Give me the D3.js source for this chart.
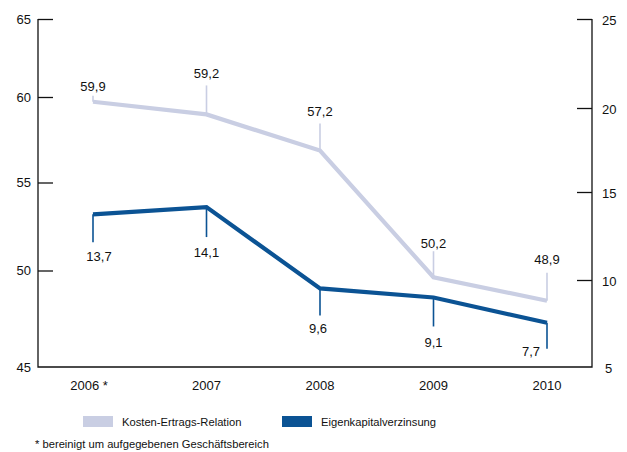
<!DOCTYPE html>
<html>
<head>
<meta charset="utf-8">
<script src="https://cdn.jsdelivr.net/npm/d3@7/dist/d3.min.js"></script>
<style>
  html, body { margin: 0; padding: 0; background: #ffffff; }
  svg { display: block; font-family: "Liberation Sans", Arial, sans-serif; }
</style>
</head>
<body>
<svg id="chart" width="627" height="452"></svg>
<script>
// ---- data ----
const years = ["2006", "2007", "2008", "2009", "2010"];
const yearLabels = ["2006 *", "2007", "2008", "2009", "2010"];
const kostenErtrag = [59.9, 59.2, 57.2, 50.2, 48.9];       // left axis
const eigenkapital = [13.7, 14.1, 9.6, 9.1, 7.7];          // right axis
const kostenLabels = ["59,9", "59,2", "57,2", "50,2", "48,9"];
const eigenLabels = ["13,7", "14,1", "9,6", "9,1", "7,7"];
const leftTicks = [45, 50, 55, 60, 65];
const rightTicks = [5, 10, 15, 20, 25];
const seriesNames = ["Kosten-Ertrags-Relation", "Eigenkapitalverzinsung"];
const footnote = "* bereinigt um aufgegebenen Geschäftsbereich";

// ---- layout ----
const colLight = "#c9cee3";
const colDark = "#0b5394";
const textCol = "#111111";
const axisL = 38, axisR = 592, axisTop = 19, axisBottom = 367;

const svg = d3.select("#chart");

const x = d3.scalePoint().domain(years).range([93, 547]);
const yL = d3.scaleLinear().domain([45, 65]).range([371.3, 9.5]);
const yR = d3.scaleLinear().domain([5, 25]).range([371.6, 10.0]);
// tick placement as drawn on the original axes
const yLTick = d3.scaleLinear().domain(leftTicks).range([367, 270.5, 182.5, 97, 19]);
const yRTick = d3.scaleLinear().domain(rightTicks).range([367, 280, 192, 108, 19]);

// ---- axes ----
const axisG = svg.append("g").attr("stroke", "#111").attr("stroke-width", 1.3).attr("fill", "none");
axisG.append("path").attr("d", `M${axisL},${axisTop}V${axisBottom}H${axisR}V${axisTop}`);

const leftAxis = d3.axisRight(yLTick).tickValues(leftTicks.slice(1)).tickSize(15).tickFormat("");
const lg = svg.append("g").attr("transform", `translate(${axisL},0)`).call(leftAxis);
lg.select(".domain").remove();
lg.selectAll("line").attr("stroke", "#111").attr("stroke-width", 1.3);

const rightAxis = d3.axisLeft(yRTick).tickValues(rightTicks.slice(1)).tickSize(15).tickFormat("");
const rg = svg.append("g").attr("transform", `translate(${axisR},0)`).call(rightAxis);
rg.select(".domain").remove();
rg.selectAll("line").attr("stroke", "#111").attr("stroke-width", 1.3);

const lblFont = 13;
svg.append("g").selectAll("text").data(leftTicks).join("text")
  .attr("x", 31).attr("y", d => yLTick(d)).attr("dy", "0.36em")
  .attr("text-anchor", "end").attr("font-size", lblFont).attr("fill", textCol)
  .text(d => d);
svg.append("g").selectAll("text").data(rightTicks).join("text")
  .attr("x", d => d < 10 ? 605 : 602).attr("y", d => yRTick(d) + 1.5).attr("dy", "0.36em")
  .attr("text-anchor", "start").attr("font-size", lblFont).attr("fill", textCol)
  .text(d => d);

// x labels
svg.append("g").selectAll("text").data(years).join("text")
  .attr("x", (d, i) => x(d) + (i === 0 ? -4 : 0)).attr("y", 390)
  .attr("text-anchor", "middle").attr("font-size", lblFont).attr("fill", textCol)
  .text((d, i) => yearLabels[i]);

// ---- lines ----
const lineL = d3.line().x((d, i) => x(years[i])).y(d => yL(d));
const lineR = d3.line().x((d, i) => x(years[i])).y(d => yR(d));

// leaders & labels (layout)
const kLead = [6, 29, 27, 26, 28];
const kLabelDy = [-15, -41, -39, -34, -41];
const eLead = [28, 30, 27, 29, 26];
const eLabelDy = [42, 45, 40, 45, 29];
const eLabelDx = [6, 0, -2, 0, -7];

svg.append("g").selectAll("line").data(kostenErtrag).join("line")
  .attr("x1", (d, i) => x(years[i])).attr("x2", (d, i) => x(years[i]))
  .attr("y1", d => yL(d)).attr("y2", (d, i) => yL(d) - kLead[i])
  .attr("stroke", colLight).attr("stroke-width", 1.6);
svg.append("g").selectAll("line").data(eigenkapital).join("line")
  .attr("x1", (d, i) => x(years[i])).attr("x2", (d, i) => x(years[i]))
  .attr("y1", d => yR(d)).attr("y2", (d, i) => yR(d) + eLead[i])
  .attr("stroke", colDark).attr("stroke-width", 1.6);

svg.append("path").datum(kostenErtrag).attr("d", lineL)
  .attr("fill", "none").attr("stroke", colLight).attr("stroke-width", 4.2)
  .attr("stroke-linejoin", "miter");
svg.append("path").datum(eigenkapital).attr("d", lineR)
  .attr("fill", "none").attr("stroke", colDark).attr("stroke-width", 4.2)
  .attr("stroke-linejoin", "miter");

svg.append("g").selectAll("text").data(kostenErtrag).join("text")
  .attr("x", (d, i) => x(years[i])).attr("y", (d, i) => yL(d) + kLabelDy[i]).attr("dy", "0.36em")
  .attr("text-anchor", "middle").attr("font-size", lblFont).attr("fill", textCol)
  .text((d, i) => kostenLabels[i]);
svg.append("g").selectAll("text").data(eigenkapital).join("text")
  .attr("x", (d, i) => x(years[i]) + eLabelDx[i]).attr("y", (d, i) => yR(d) + eLabelDy[i]).attr("dy", "0.36em")
  .attr("text-anchor", (d, i) => i === 4 ? "end" : "middle").attr("font-size", lblFont).attr("fill", textCol)
  .text((d, i) => eigenLabels[i]);

// ---- legend ----
const legend = svg.append("g");
const legX = [83, 282];
const legCol = [colLight, colDark];
seriesNames.forEach((name, i) => {
  legend.append("rect").attr("x", legX[i]).attr("y", 416).attr("width", 30).attr("height", 11).attr("fill", legCol[i]);
  legend.append("text").attr("x", legX[i] + 39).attr("y", 421.5).attr("dy", "0.36em")
    .attr("font-size", 11.2).attr("fill", textCol).text(name);
});

svg.append("text").attr("x", 35).attr("y", 444).attr("dy", "0.36em")
  .attr("font-size", 11.2).attr("fill", textCol).text(footnote);
</script>
</body>
</html>
